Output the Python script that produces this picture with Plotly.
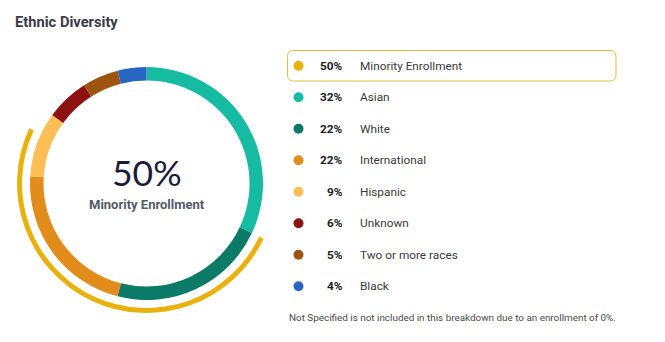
import plotly.graph_objects as go

# Enrollment breakdown
categories = ["Asian", "White", "International", "Hispanic", "Unknown", "Two or more races", "Black"]
shares = [32, 22, 22, 9, 6, 5, 4]
colors = ["#17BBA2", "#0B7A67", "#E28C1C", "#FCBE55", "#8E1111", "#9E530E", "#2966C4"]

minority_label = "Minority Enrollment"
minority_share = 50
minority_color = "#E9B10C"

footnote = "Not Specified is not included in this breakdown due to an enrollment of 0%."

W, H = 665, 342
cx, cy = 146.5, 183.5          # ring centre (px)
r_ring, r_ring_in = 116.5, 103.0
r_arc, r_arc_in = 129.5, 124.5


def domain(r):
    return dict(x=[(cx - r) / W, (cx + r) / W],
                y=[(H - cy - r) / H, (H - cy + r) / H])


fig = go.Figure()

# main donut
fig.add_trace(go.Pie(
    values=shares, labels=categories, marker=dict(colors=colors, line=dict(width=0)),
    hole=r_ring_in / r_ring, sort=False, direction="clockwise", rotation=0,
    textinfo="none", hoverinfo="label+percent", domain=domain(r_ring), showlegend=False,
))

# outer arc for minority enrollment, starting where the first slice ends
arc_vals = [shares[0], minority_share, 100 - shares[0] - minority_share]
fig.add_trace(go.Pie(
    values=arc_vals, labels=["pre", minority_label, "post"],
    marker=dict(colors=["rgba(0,0,0,0)", minority_color, "rgba(0,0,0,0)"], line=dict(width=0)),
    hole=r_arc_in / r_arc, sort=False, direction="clockwise", rotation=0,
    textinfo="none", hoverinfo="skip", domain=domain(r_arc), showlegend=False,
))

# legend rows
leg_labels = [minority_label] + categories
leg_vals = [minority_share] + shares
leg_colors = [minority_color] + colors
row_y = [65.8 + i * 31.5 for i in range(len(leg_labels))]

fig.add_trace(go.Scatter(
    x=[298.5] * len(leg_labels), y=row_y, mode="markers",
    marker=dict(size=10, color=leg_colors, line=dict(width=0)),
    hoverinfo="skip", showlegend=False,
))

annotations = [
    dict(x=13, y=22, text="<b>Ethnic Diversity</b>", xanchor="left", yanchor="middle",
         font=dict(family="Roboto", size=14.7, color="#3B3B48")),
    dict(x=cx, y=172, text="50%", xanchor="center", yanchor="middle",
         font=dict(family="Lato", size=35.5, color="#1D1B3A")),
    dict(x=cx, y=204, text="<b>%s</b>" % minority_label, xanchor="center", yanchor="middle",
         font=dict(family="Roboto", size=13, color="#555A68")),
    dict(x=287, y=317, text=footnote, xanchor="left", yanchor="middle",
         font=dict(family="Roboto", size=9.9, color="#4A4A4A")),
]
for lab, v, y in zip(leg_labels, leg_vals, row_y):
    annotations.append(dict(x=344.5, y=y, text="<b>%d%%</b>" % v, xanchor="right", yanchor="middle",
                            font=dict(family="Roboto", size=11.8, color="#222222")))
    annotations.append(dict(x=357.5, y=y, text=lab, xanchor="left", yanchor="middle",
                            font=dict(family="Roboto", size=11.8, color="#3A3A3A")))
for a in annotations:
    a.update(xref="x", yref="y", showarrow=False)

x0, x1, y0, y1, rr = 287.5, 616, 50.5, 81, 6
box = (f"M {x0+rr},{y0} H {x1-rr} Q {x1},{y0} {x1},{y0+rr} V {y1-rr} Q {x1},{y1} {x1-rr},{y1} "
       f"H {x0+rr} Q {x0},{y1} {x0},{y1-rr} V {y0+rr} Q {x0},{y0} {x0+rr},{y0} Z")

fig.update_layout(
    width=W, height=H, margin=dict(l=0, r=0, t=0, b=0),
    paper_bgcolor="white", plot_bgcolor="white",
    xaxis=dict(range=[0, W], visible=False, domain=[0, 1], fixedrange=True),
    yaxis=dict(range=[H, 0], visible=False, domain=[0, 1], fixedrange=True),
    shapes=[dict(type="path", path=box, xref="x", yref="y",
                 line=dict(color="#E6BB45", width=1), fillcolor="rgba(0,0,0,0)")],
    annotations=annotations,
    showlegend=False,
)

fig.write_html("out.html")
